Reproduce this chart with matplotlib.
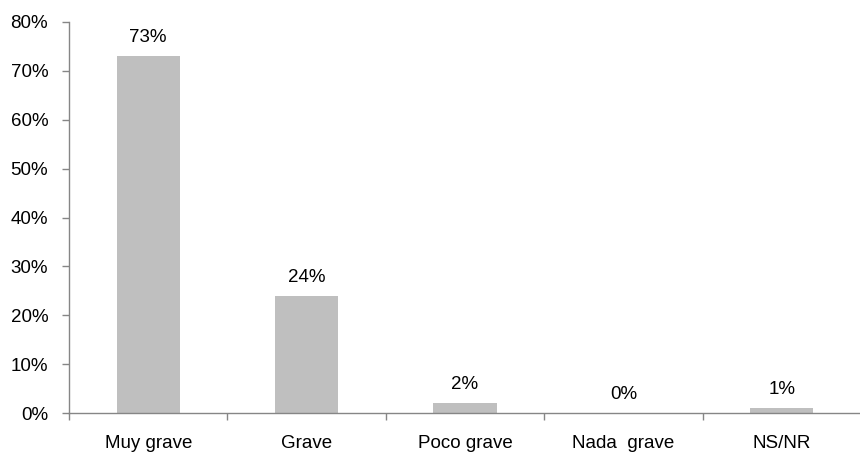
import matplotlib
matplotlib.use("Agg")
import matplotlib.pyplot as plt
from matplotlib.ticker import FuncFormatter, FixedLocator
import numpy as np

plt.rcParams['font.family'] = ['Liberation Sans Narrow', 'Liberation Sans', 'DejaVu Sans']

categories = ["Muy grave", "Grave", "Poco grave", "Nada  grave", "NS/NR"]
values = [73, 24, 2, 0, 1]
y_ticks = [0, 10, 20, 30, 40, 50, 60, 70, 80]

fig = plt.figure(figsize=(8.6, 4.53), dpi=100)
ax = fig.add_axes([69 / 860, 40 / 453, (861 - 69) / 860, (413 - 22) / 453])

x = np.arange(len(categories))
ax.bar(x, values, width=0.4, color="#BFBFBF", zorder=2)

for xi, v in zip(x, values):
    ax.text(xi, v + 2.0, f"{v}%", ha="center", va="bottom", fontsize=13.5, color="#000000")

ax.set_xlim(-0.5, len(categories) - 0.5)
ax.set_ylim(0, 80)
ax.set_yticks(y_ticks)
ax.yaxis.set_major_formatter(FuncFormatter(lambda v, p: f"{v:.0f}%"))

# category labels centred, tick marks at the boundaries
ax.set_xticks(x)
ax.set_xticklabels(categories)
ax.xaxis.set_minor_locator(FixedLocator(np.arange(-0.5, len(categories), 1.0)))
ax.tick_params(axis="x", which="major", length=0, pad=16, labelsize=13.5)
ax.tick_params(axis="x", which="minor", length=5, width=1, color="#868686", direction="out")
ax.tick_params(axis="y", length=5, width=1, color="#868686", direction="out", labelsize=13.5, pad=10)

for side in ["top", "right"]:
    ax.spines[side].set_visible(False)
for side in ["left", "bottom"]:
    ax.spines[side].set_color("#868686")
    ax.spines[side].set_linewidth(1)

fig.savefig("out.png", dpi=100)
